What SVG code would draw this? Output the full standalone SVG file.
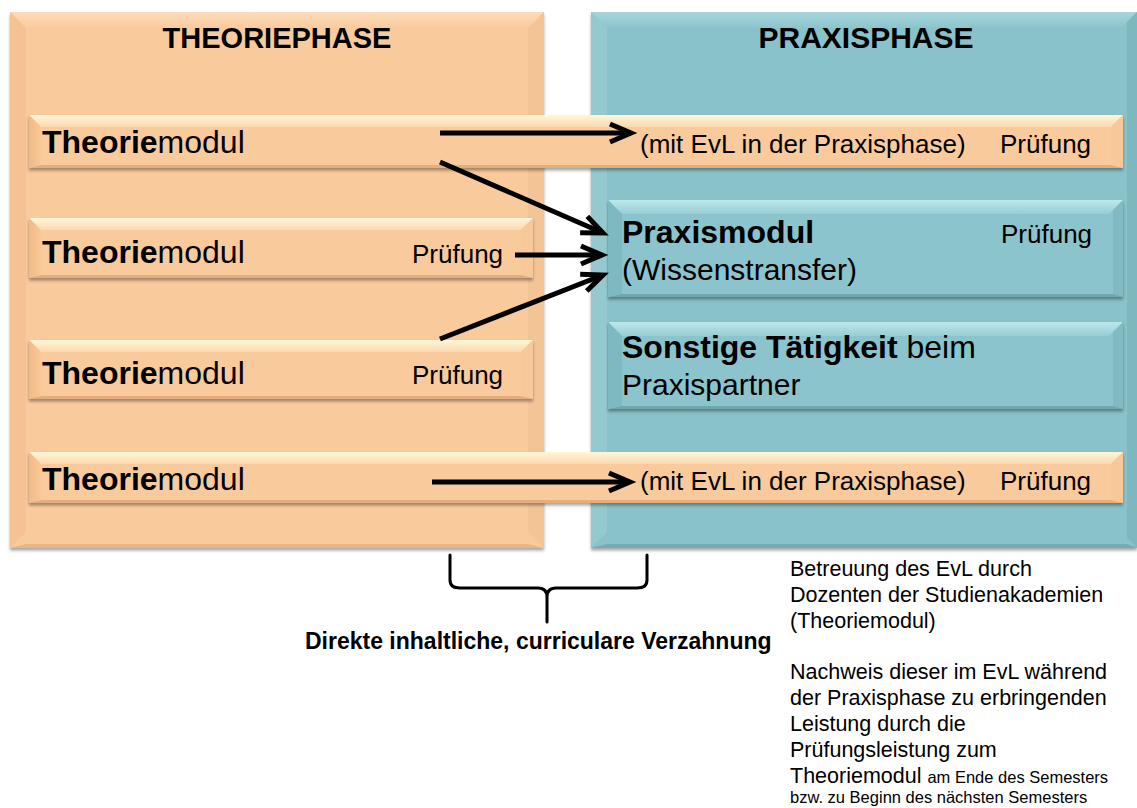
<svg xmlns="http://www.w3.org/2000/svg" width="1137" height="808" viewBox="0 0 1137 808">
<style>
text{font-family:"Liberation Sans",Arial,sans-serif;fill:#000}
.b{font-weight:bold}
.hd{font-size:30px;font-weight:bold;text-anchor:middle}
.big{font-size:32px}
.mid{font-size:30px}
.sm{font-size:26px}
.note{font-size:21.5px}
.tiny{font-size:16.5px}
.of{fill:#F9CA9B}
.ot{fill:url(#gOT)}
.ol{fill:#F6C293}
.or{fill:#F3C496}
.ob{fill:#E9B586}
.bt{fill:url(#gBT)}
.bl{fill:url(#gBL)}
.br{fill:#F6C89A}
.bb{fill:#E2AE7F}
.tf{fill:#8AC2CA}
.tt{fill:url(#gTT)}
.tl{fill:#94C9D0}
.tr{fill:#7FB7BF}
.tb{fill:#74ABB3}
.xf{fill:#8BC4CC}
.xt{fill:url(#gXT)}
.xl{fill:#7EB9C1}
.xr{fill:#82BAC2}
.xb{fill:#6FA6AE}
.arr{stroke:#000;stroke-width:5;fill:none;marker-end:url(#ah)}
</style>
<defs>
<linearGradient id="gOT" x1="0" y1="0" x2="0" y2="1"><stop offset="0" stop-color="#FCDCBB"/><stop offset="1" stop-color="#F9CB9D"/></linearGradient>
<linearGradient id="gBT" x1="0" y1="0" x2="0" y2="1"><stop offset="0" stop-color="#FFF6D9"/><stop offset="1" stop-color="#FCD9AE"/></linearGradient>
<linearGradient id="gBL" x1="0" y1="0" x2="1" y2="0"><stop offset="0" stop-color="#F2BA86"/><stop offset="1" stop-color="#F8C898"/></linearGradient>
<linearGradient id="gTT" x1="0" y1="0" x2="0" y2="1"><stop offset="0" stop-color="#A7D6DC"/><stop offset="1" stop-color="#8DC4CC"/></linearGradient>
<linearGradient id="gXT" x1="0" y1="0" x2="0" y2="1"><stop offset="0" stop-color="#BDE8EC"/><stop offset="1" stop-color="#97CDD4"/></linearGradient>
<filter id="sh" x="-5%" y="-20%" width="110%" height="150%"><feDropShadow dx="0" dy="2.5" stdDeviation="1.5" flood-color="#000" flood-opacity="0.35"/></filter>
<marker id="ah" markerUnits="userSpaceOnUse" markerWidth="34" markerHeight="30" refX="22" refY="12" orient="auto" overflow="visible">
<path d="M1,3 L22,12 L1,21" fill="none" stroke="#000" stroke-width="5" stroke-linejoin="miter" stroke-miterlimit="10"/>
</marker>
</defs>
<rect width="1137" height="808" fill="#fff"/>

<g id="theoriephase">
<g filter="url(#sh)">
<rect class="of" x="10" y="12" width="534" height="536"/>
<polygon class="ot" points="10,12 544,12 528,28 26,28"/>
<polygon class="ol" points="10,12 26,28 26,532 10,548"/>
<polygon class="or" points="544,12 544,548 528,532 528,28"/>
<polygon class="ob" points="10,548 544,548 528,544 26,544"/>
</g>
<text class="hd" x="277" y="48" style="font-size:29px">THEORIEPHASE</text>
</g>

<g id="praxisphase">
<g filter="url(#sh)">
<rect class="tf" x="591" y="12" width="546" height="536"/>
<polygon class="tt" points="591,12 1137,12 1121,28 607,28"/>
<polygon class="tl" points="591,12 607,28 607,532 591,548"/>
<polygon class="tr" points="1137,12 1137,548 1127,538 1127,22"/>
<polygon class="tb" points="591,548 1137,548 1127,544 607,544"/>
</g>
<text class="hd" x="866" y="48">PRAXISPHASE</text>
</g>

<g id="theoriemodul1">
<g filter="url(#sh)">
<rect class="of" x="29" y="115" width="1094" height="53"/>
<polygon class="bt" points="29,115 1123,115 1111,127 41,127"/>
<polygon class="bl" points="29,115 41,127 41,165 29,168"/>
<polygon class="br" points="1123,115 1123,168 1111,165 1111,127"/>
<polygon class="bb" points="29,168 1123,168 1111,165 41,165"/>
</g>
<text class="big" x="42" y="153"><tspan class="b">Theorie</tspan>modul</text>
<text class="sm" x="640" y="153">(mit EvL in der Praxisphase)</text>
<text class="sm" x="1000" y="153">Prüfung</text>
</g>

<g id="theoriemodul2">
<g filter="url(#sh)">
<rect class="of" x="29" y="218" width="504" height="60"/>
<polygon class="bt" points="29,218 533,218 521,230 41,230"/>
<polygon class="bl" points="29,218 41,230 41,275 29,278"/>
<polygon class="br" points="533,218 533,278 521,275 521,230"/>
<polygon class="bb" points="29,278 533,278 521,275 41,275"/>
</g>
<text class="big" x="42" y="263"><tspan class="b">Theorie</tspan>modul</text>
<text class="sm" x="412" y="263">Prüfung</text>
</g>

<g id="theoriemodul3">
<g filter="url(#sh)">
<rect class="of" x="29" y="340" width="504" height="59"/>
<polygon class="bt" points="29,340 533,340 521,352 41,352"/>
<polygon class="bl" points="29,340 41,352 41,396 29,399"/>
<polygon class="br" points="533,340 533,399 521,396 521,352"/>
<polygon class="bb" points="29,399 533,399 521,396 41,396"/>
</g>
<text class="big" x="42" y="384"><tspan class="b">Theorie</tspan>modul</text>
<text class="sm" x="412" y="384">Prüfung</text>
</g>

<g id="theoriemodul4">
<g filter="url(#sh)">
<rect class="of" x="29" y="452" width="1094" height="51"/>
<polygon class="bt" points="29,452 1123,452 1111,464 41,464"/>
<polygon class="bl" points="29,452 41,464 41,500 29,503"/>
<polygon class="br" points="1123,452 1123,503 1111,500 1111,464"/>
<polygon class="bb" points="29,503 1123,503 1111,500 41,500"/>
</g>
<text class="big" x="42" y="490"><tspan class="b">Theorie</tspan>modul</text>
<text class="sm" x="640" y="490">(mit EvL in der Praxisphase)</text>
<text class="sm" x="1000" y="490">Prüfung</text>
</g>

<g id="praxismodul">
<g filter="url(#sh)">
<rect class="xf" x="608" y="200" width="515" height="97"/>
<polygon class="xt" points="608,200 1123,200 1109,214 622,214"/>
<polygon class="xl" points="608,200 622,214 622,294 608,297"/>
<polygon class="xr" points="1123,200 1123,297 1113,294 1113,210"/>
<polygon class="xb" points="608,297 1123,297 1113,294 622,294"/>
</g>
<text class="big b" x="622" y="243">Praxismodul</text>
<text class="sm" x="1001" y="243">Prüfung</text>
<text class="mid" x="622" y="280">(Wissenstransfer)</text>
</g>

<g id="sonstige">
<g filter="url(#sh)">
<rect class="xf" x="608" y="322" width="515" height="87"/>
<polygon class="xt" points="608,322 1123,322 1109,336 622,336"/>
<polygon class="xl" points="608,322 622,336 622,406 608,409"/>
<polygon class="xr" points="1123,322 1123,409 1113,406 1113,332"/>
<polygon class="xb" points="608,409 1123,409 1113,406 622,406"/>
</g>
<text class="big" x="622" y="358"><tspan class="b">Sonstige Tätigkeit</tspan> beim</text>
<text class="mid" x="622" y="395">Praxispartner</text>
</g>

<g id="connectors">
<line class="arr" x1="440" y1="133" x2="631" y2="133"/>
<line class="arr" x1="440" y1="162" x2="603" y2="233"/>
<line class="arr" x1="515" y1="255" x2="602" y2="255"/>
<line class="arr" x1="440" y1="339" x2="603" y2="275"/>
<line class="arr" x1="432" y1="482" x2="630" y2="482"/>
</g>

<g id="verzahnung">
<path d="M450,555 L450,580 Q450,588 460,588 L538,588 Q547,588 547,597 L547,622 M647,555 L647,580 Q647,588 637,588 L556,588 Q547,588 547,597" fill="none" stroke="#000" stroke-width="3" stroke-linejoin="round" stroke-linecap="round"/>
<text class="b" x="305" y="649" style="font-size:23px">Direkte inhaltliche, curriculare Verzahnung</text>
</g>

<g id="anmerkungen">
<text class="note" x="790" y="576">Betreuung des EvL durch</text>
<text class="note" x="790" y="602">Dozenten der Studienakademien</text>
<text class="note" x="790" y="628">(Theoriemodul)</text>
<text class="note" x="790" y="679">Nachweis dieser im EvL während</text>
<text class="note" x="790" y="705">der Praxisphase zu erbringenden</text>
<text class="note" x="790" y="731">Leistung durch die</text>
<text class="note" x="790" y="757">Prüfungsleistung zum</text>
<text class="note" x="790" y="783">Theoriemodul <tspan class="tiny">am Ende des Semesters</tspan></text>
<text class="tiny" x="790" y="803">bzw. zu Beginn des nächsten Semesters</text>
</g>
</svg>
